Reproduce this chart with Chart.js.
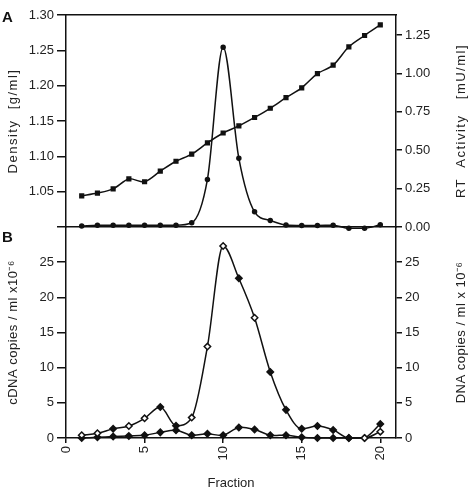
<!DOCTYPE html>
<html>
<head>
<meta charset="utf-8">
<script src="https://cdn.jsdelivr.net/npm/chart.js@4.4.1/dist/chart.umd.min.js"></script>
<style>
  body { margin: 0; background: #fff; }
  canvas { position: absolute; left: 0; top: 0; }
</style>
</head>
<body>
<canvas id="chartA" width="474" height="492"></canvas>
<canvas id="chartB" width="474" height="492"></canvas>
<script>
// Fractions collected from the gradient
const fractions = [1, 2, 3, 4, 5, 6, 7, 8, 9, 10, 11, 12, 13, 14, 15, 16, 17, 18, 19, 20];

// Panel A
const density = [1.044, 1.048, 1.054, 1.068, 1.064, 1.079, 1.093, 1.103, 1.119, 1.133,
                 1.143, 1.155, 1.168, 1.183, 1.197, 1.217, 1.229, 1.255, 1.271, 1.286];
const rtActivity = [0.006, 0.012, 0.012, 0.012, 0.012, 0.012, 0.012, 0.028, 0.31, 1.17,
                    0.447, 0.099, 0.043, 0.013, 0.01, 0.01, 0.012, -0.008, -0.008, 0.015];

// Panel B
const cdnaCopies = [0.4, 0.67, 1.3, 1.7, 2.8, 4.4, 1.75, 2.9, 13.0, 27.3,
                    22.7, 17.1, 9.4, 4.0, 1.3, 1.7, 1.15, 0, 0, 0.9];
const dnaCopies = [0, 0.1, 0.2, 0.3, 0.4, 0.8, 1.1, 0.4, 0.6, 0.4,
                   1.5, 1.2, 0.4, 0.4, 0.1, 0, 0, 0, 0, 2.0];

// Tick labels
const densityTicks = [1.00, 1.05, 1.10, 1.15, 1.20, 1.25, 1.30];
const rtTicks = [0, 0.25, 0.5, 0.75, 1.0, 1.25];
const copyTicks = [0, 5, 10, 15, 20, 25];
const fractionTicks = [0, 5, 10, 15, 20];

const FONT = '"Liberation Sans", Arial, sans-serif';
const INK = '#111';

// fractions where the big curve's diamond is printed filled
const filledCdna = [3, 6, 7, 11, 13, 14, 15, 16, 17, 18];

const pts = (ys) => fractions.map((f, i) => ({ x: f, y: ys[i] }));

// axis titles, panel letters (drawn rotated, reading bottom to top)
const panelText = {
    id: 'panelText',
    afterDraw(chart, args, opts) {
        const ctx = chart.ctx;
        const area = chart.chartArea;
        const midY = (area.top + area.bottom) / 2;
        ctx.save();
        ctx.fillStyle = INK;
        ctx.textBaseline = 'middle';
        ctx.font = 'bold 15px ' + FONT;
        ctx.fillText(opts.letter, 2, opts.letterY);

        ctx.font = '13px ' + FONT;
        ctx.fillStyle = '#222';
        ctx.letterSpacing = opts.spacing;
        ctx.textAlign = 'center';
        [[opts.leftX, opts.left], [opts.rightX, opts.right]].forEach(([x, txt]) => {
            ctx.save();
            ctx.translate(x, midY);
            ctx.rotate(-Math.PI / 2);
            ctx.fillText(txt, 0, 0);
            ctx.restore();
        });
        ctx.restore();
    }
};

function yAxis(position, min, max, ticks, fmt, width, tickLen) {
    return {
        type: 'linear',
        position: position,
        min: min,
        max: max,
        afterBuildTicks: s => { s.ticks = ticks.map(v => ({ value: v })); },
        afterFit: s => { s.width = width; },
        grid: { drawOnChartArea: false, color: INK, tickLength: tickLen, lineWidth: 1.5 },
        border: { color: INK, width: 1.5 },
        ticks: { color: '#222', font: { family: FONT, size: 13 }, padding: 3, callback: fmt }
    };
}

function edgeAxis(position) {
    return {
        type: 'linear',
        position: position,
        min: 0,
        max: 21,
        afterFit: s => { s.height = 0; },
        ticks: { display: false },
        grid: { display: false, drawTicks: false },
        border: { color: INK, width: 1.5 }
    };
}

// Panel A: density and RT activity
new Chart(document.getElementById('chartA'), {
    type: 'line',
    data: {
        datasets: [
            {
                label: 'Density',
                data: pts(density),
                yAxisID: 'yl',
                borderColor: INK,
                borderWidth: 1.5,
                pointStyle: 'rect',
                pointRadius: 2.6,
                pointBackgroundColor: INK,
                pointBorderColor: INK,
                tension: 0.3,
                clip: false
            },
            {
                label: 'RT Activity',
                data: pts(rtActivity),
                yAxisID: 'yr',
                borderColor: INK,
                borderWidth: 1.5,
                pointStyle: 'circle',
                pointRadius: 2,
                pointBackgroundColor: INK,
                pointBorderColor: INK,
                cubicInterpolationMode: 'monotone',
                clip: false
            }
        ]
    },
    options: {
        responsive: false,
        animation: false,
        layout: { padding: { top: 15, bottom: 265, left: 0, right: 0 } },
        plugins: {
            legend: { display: false },
            tooltip: { enabled: false },
            panelText: {
                letter: 'A', letterY: 18, spacing: '1.5px',
                left: 'Density  [g/ml]', leftX: 13,
                right: 'RT  Activity   [mU/ml]', rightX: 461
            }
        },
        scales: {
            x: edgeAxis('bottom'),
            xt: edgeAxis('top'),
            yl: yAxis('left', 1.0, 1.30, densityTicks,
                v => (v < 1.01 ? '' : v.toFixed(2)), 66, 9),
            yr: yAxis('right', 0, 1.38, rtTicks, v => v.toFixed(2), 78, 6)
        }
    },
    plugins: [panelText]
});

// Panel B: cDNA and DNA copies
new Chart(document.getElementById('chartB'), {
    type: 'line',
    data: {
        datasets: [
            {
                label: 'cDNA copies',
                data: pts(cdnaCopies),
                yAxisID: 'yl',
                borderColor: INK,
                borderWidth: 1.5,
                pointStyle: 'rectRot',
                pointRadius: 3.2,
                pointBorderWidth: 1.5,
                pointBorderColor: INK,
                pointBackgroundColor: c => filledCdna.includes(fractions[c.dataIndex]) ? INK : '#fff',
                cubicInterpolationMode: 'monotone',
                clip: false
            },
            {
                label: 'DNA copies',
                data: pts(dnaCopies),
                yAxisID: 'yr',
                borderColor: INK,
                borderWidth: 1.5,
                pointStyle: 'rectRot',
                pointRadius: 3.2,
                pointBorderWidth: 1.5,
                pointBorderColor: INK,
                pointBackgroundColor: INK,
                tension: 0.35,
                clip: false
            }
        ]
    },
    options: {
        responsive: false,
        animation: false,
        layout: { padding: { top: 227, bottom: 0, left: 0, right: 0 } },
        plugins: {
            legend: { display: false },
            tooltip: { enabled: false },
            panelText: {
                letter: 'B', letterY: 238, spacing: '0.5px',
                left: 'cDNA copies / ml x10⁻⁶', leftX: 13,
                right: 'DNA copies / ml x 10⁻⁶', rightX: 461
            }
        },
        scales: {
            x: {
                type: 'linear',
                min: 0,
                max: 21,
                afterBuildTicks: s => { s.ticks = fractionTicks.map(v => ({ value: v })); },
                afterFit: s => { s.height = 54; },
                grid: { drawOnChartArea: false, color: INK, tickLength: 5, lineWidth: 1.5 },
                border: { color: INK, width: 1.5 },
                ticks: {
                    color: '#222', font: { family: FONT, size: 13 },
                    minRotation: 90, maxRotation: 90, padding: 3
                },
                title: {
                    display: true, text: 'Fraction', color: '#222',
                    font: { family: FONT, size: 13 }, padding: { top: 0, bottom: 1 }
                }
            },
            yl: yAxis('left', 0, 30, copyTicks, v => String(v), 66, 9),
            yr: yAxis('right', 0, 30, copyTicks, v => String(v), 78, 6)
        }
    },
    plugins: [panelText]
});
</script>
</body>
</html>
